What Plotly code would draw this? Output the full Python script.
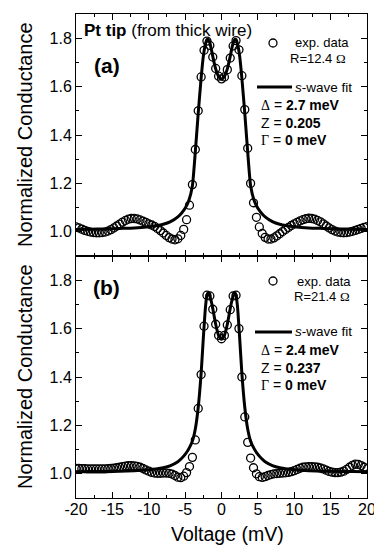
import plotly.graph_objects as go

# measured bias voltage (mV), shared by both panels
VOLTAGE = [
    -20.0, -19.6, -19.2, -18.8, -18.4, -18.0, -17.6, -17.2, -16.8, -16.4,
    -16.0, -15.6, -15.2, -14.8, -14.4, -14.0, -13.6, -13.2, -12.8, -12.4,
    -12.0, -11.6, -11.2, -10.8, -10.4, -10.0, -9.6, -9.2, -8.8, -8.4,
    -8.0, -7.6, -7.2, -6.8, -6.4, -6.0, -5.6, -5.2, -4.8, -4.4,
    -4.0, -3.6, -3.2, -2.8, -2.4, -2.0, -1.6, -1.2, -0.8, -0.4,
    0.0, 0.4, 0.8, 1.2, 1.6, 2.0, 2.4, 2.8, 3.2, 3.6,
    4.0, 4.4, 4.8, 5.2, 5.6, 6.0, 6.4, 6.8, 7.2, 7.6,
    8.0, 8.4, 8.8, 9.2, 9.6, 10.0, 10.4, 10.8, 11.2, 11.6,
    12.0, 12.4, 12.8, 13.2, 13.6, 14.0, 14.4, 14.8, 15.2, 15.6,
    16.0, 16.4, 16.8, 17.2, 17.6, 18.0, 18.4, 18.8, 19.2, 19.6, 20.0,
]

# panel (a): R = 12.4 Ohm
EXP_A = [
    1.020, 1.016, 1.011, 1.006, 1.002, 0.999, 0.997, 0.996, 0.996, 0.997,
    0.999, 1.003, 1.009, 1.016, 1.024, 1.032, 1.040, 1.047, 1.052, 1.055,
    1.055, 1.053, 1.049, 1.044, 1.039, 1.033, 1.028, 1.022, 1.014, 1.005,
    0.995, 0.985, 0.976, 0.970, 0.967, 0.971, 0.985, 1.010, 1.050, 1.110,
    1.195, 1.340, 1.500, 1.640, 1.750, 1.788, 1.770, 1.722, 1.675, 1.643,
    1.632, 1.640, 1.670, 1.718, 1.768, 1.790, 1.752, 1.645, 1.505, 1.345,
    1.200, 1.120, 1.060, 1.020, 0.993, 0.977, 0.970, 0.970, 0.975, 0.983,
    0.992, 1.001, 1.010, 1.018, 1.026, 1.033, 1.039, 1.045, 1.050, 1.054,
    1.056, 1.055, 1.052, 1.047, 1.041, 1.033, 1.024, 1.016, 1.009, 1.003,
    0.999, 0.997, 0.996, 0.997, 0.999, 1.002, 1.006, 1.010, 1.014, 1.018, 1.021,
]

# panel (b): R = 21.4 Ohm
EXP_B = [
    1.022, 1.022, 1.021, 1.021, 1.020, 1.020, 1.020, 1.020, 1.020, 1.020,
    1.020, 1.021, 1.022, 1.023, 1.025, 1.027, 1.030, 1.032, 1.034, 1.034,
    1.033, 1.031, 1.027, 1.022, 1.016, 1.011, 1.006, 1.003, 1.002, 1.002,
    1.003, 1.003, 1.002, 0.999, 0.993, 0.986, 0.984, 0.990, 1.005, 1.030,
    1.068, 1.140, 1.270, 1.410, 1.610, 1.738, 1.735, 1.680, 1.618, 1.572,
    1.558, 1.572, 1.615, 1.678, 1.735, 1.738, 1.600, 1.400, 1.235, 1.130,
    1.065, 1.025, 1.000, 0.988, 0.985, 0.988, 0.993, 0.997, 1.000, 1.001,
    1.002, 1.003, 1.004, 1.006, 1.009, 1.013, 1.018, 1.023, 1.027, 1.029,
    1.030, 1.030, 1.029, 1.027, 1.024, 1.020, 1.015, 1.010, 1.007, 1.005,
    1.005, 1.007, 1.011, 1.018, 1.027, 1.035, 1.040, 1.039, 1.034, 1.027, 1.020,
]

# s-wave (BTK) fit curves
FIT_V = [
    -20, -18, -16, -14, -12, -10, -9, -8, -7, -6, -5.5, -5, -4.5, -4,
    -3.6, -3.2, -2.8, -2.5, -2.2, -2.0, -1.8, -1.6, -1.4, -1.2, -0.8, -0.4, 0,
    0.4, 0.8, 1.2, 1.4, 1.6, 1.8, 2.0, 2.2, 2.5, 2.8, 3.2, 3.6,
    4, 4.5, 5, 5.5, 6, 7, 8, 9, 10, 12, 14, 16, 18, 20,
]
FIT_A = [
    1.010, 1.011, 1.012, 1.014, 1.016, 1.021, 1.025, 1.031, 1.042, 1.062, 1.077, 1.097, 1.128, 1.190,
    1.330, 1.490, 1.635, 1.725, 1.778, 1.795, 1.795, 1.780, 1.755, 1.725, 1.673, 1.642, 1.630,
    1.642, 1.673, 1.725, 1.755, 1.780, 1.795, 1.795, 1.778, 1.725, 1.635, 1.490, 1.330,
    1.190, 1.128, 1.097, 1.077, 1.062, 1.042, 1.031, 1.025, 1.021, 1.016, 1.014, 1.012, 1.011, 1.010,
]
FIT_B = [
    1.008, 1.009, 1.010, 1.011, 1.013, 1.017, 1.020, 1.025, 1.034, 1.050, 1.063, 1.080, 1.103, 1.135,
    1.185, 1.275, 1.415, 1.560, 1.690, 1.738, 1.748, 1.735, 1.712, 1.683, 1.618, 1.572, 1.556,
    1.572, 1.618, 1.683, 1.712, 1.735, 1.748, 1.738, 1.690, 1.560, 1.415, 1.275, 1.185,
    1.135, 1.103, 1.080, 1.063, 1.050, 1.034, 1.025, 1.020, 1.017, 1.013, 1.011, 1.010, 1.009, 1.008,
]

X_TICKS = [-20, -15, -10, -5, 0, 5, 10, 15, 20]
X_LABELS = ["-20", "-15", "-10", "-5", "0", "5", "10", "15", "20"]
Y_TICKS = [1.0, 1.2, 1.4, 1.6, 1.8]
Y_LABELS = ["1.0", "1.2", "1.4", "1.6", "1.8"]

FONT = "Liberation Sans, Arial, sans-serif"
# the page body has an 8 px margin, so the figure is drawn 8 px smaller and
# all positions below are given in window pixels
OFF = 8
W, H = 382 - OFF, 549 - OFF
# plot area in window pixels: x 76..367, y 14..498
PL, PR, PT, PB = 76, 367, 14, 498
PW, PH = PR - PL, PB - PT


def px(x):
    return (x - PL) / PW


def py(y):
    return (PB - y) / PH


fig = go.Figure()
for ya, exp, fit in (("y2", EXP_A, FIT_A), ("y", EXP_B, FIT_B)):
    xa = "x2" if ya == "y2" else "x"
    fig.add_trace(go.Scatter(x=VOLTAGE, y=exp, mode="markers", xaxis=xa, yaxis=ya,
                             marker=dict(symbol="circle-open", size=8, color="black",
                                         line=dict(width=1.3, color="black")),
                             showlegend=False))
    fig.add_trace(go.Scatter(x=FIT_V, y=fit, mode="lines", xaxis=xa, yaxis=ya,
                             line=dict(color="black", width=3, shape="spline", smoothing=0.5),
                             showlegend=False))

xcommon = dict(range=[-20, 20], showline=True, linecolor="black", linewidth=1, mirror="ticks",
               ticks="inside", ticklen=6, tickcolor="black",
               tickvals=X_TICKS, ticktext=X_LABELS, ticklabelstandoff=-3,
               minor=dict(ticks="inside", ticklen=3, dtick=2.5, tick0=0, tickcolor="black"),
               showgrid=False, zeroline=False,
               tickfont=dict(family=FONT, size=16, color="black"))
ycommon = dict(range=[0.9, 1.9], showline=True, linecolor="black", linewidth=1, mirror="ticks",
               ticks="inside", ticklen=6, tickcolor="black",
               tickvals=Y_TICKS, ticktext=Y_LABELS,
               minor=dict(ticks="inside", ticklen=3, dtick=0.1, tick0=0, tickcolor="black"),
               showgrid=False, zeroline=False,
               tickfont=dict(family=FONT, size=16, color="black"))

fig.update_layout(
    width=W, height=H,
    margin=dict(l=PL - OFF, r=W - (PR - OFF), t=PT - OFF, b=H - (PB - OFF)),
    paper_bgcolor="white", plot_bgcolor="white",
    xaxis=dict(xcommon, domain=[0, 1], anchor="y"),
    yaxis=dict(ycommon, domain=[0, 0.5], anchor="x"),
    xaxis2=dict(xcommon, domain=[0, 1], anchor="y2", showticklabels=False, matches="x"),
    yaxis2=dict(ycommon, domain=[0.5, 1], anchor="x2"),
)

GREEK = '<span style="font-family:Liberation Serif">'
notes = [
    # (x px, y px, text, size, xanchor)
    (82, 30, "<b>Pt tip</b> (from thick wire)", 17, "left"),
    (92, 66, "<b>(a)</b>", 21, "left"),
    (293, 43, "exp. data", 13, "left"),
    (348, 59, "R=12.4 " + GREEK + "Ω</span>", 13, "right"),
    (293, 87, "<i>s</i>-wave fit", 13.5, "left"),
    (259, 105, GREEK + "Δ</span> = <b>2.7 meV</b>", 14, "left"),
    (259, 123, "Z = <b>0.205</b>", 14, "left"),
    (259, 140, GREEK + "Γ</span> = <b>0 meV</b>", 14, "left"),
    (91, 287, "<b>(b)</b>", 21, "left"),
    (295, 281, "exp. data", 13, "left"),
    (352, 296, "R=21.4 " + GREEK + "Ω</span>", 13, "right"),
    (293, 332, "<i>s</i>-wave fit", 13.5, "left"),
    (259, 350, GREEK + "Δ</span> = <b>2.4 meV</b>", 14, "left"),
    (259, 368, "Z = <b>0.237</b>", 14, "left"),
    (259, 385, GREEK + "Γ</span> = <b>0 meV</b>", 14, "left"),
    (227, 534, "Voltage (mV)", 19.5, "center"),
]
for x, y, text, size, anchor in notes:
    fig.add_annotation(x=px(x), y=py(y), xref="paper", yref="paper", text=text,
                       showarrow=False, xanchor=anchor, yanchor="middle",
                       font=dict(family=FONT, size=size, color="black"))

# y axis titles
for yc in (135, 377):
    fig.add_annotation(x=px(25), y=py(yc), xref="paper", yref="paper",
                       text="Normalized Conductance", textangle=-90, showarrow=False,
                       xanchor="center", yanchor="middle",
                       font=dict(family=FONT, size=20, color="black"))

# legend symbols
for cy, ly, x0, x1 in ((43, 87, 257, 292), (281, 332, 255, 292)):
    fig.add_shape(type="circle", xref="paper", yref="paper",
                  x0=px(269), x1=px(277), y0=py(cy + 4), y1=py(cy - 4),
                  line=dict(color="black", width=1.3))
    fig.add_shape(type="line", xref="paper", yref="paper",
                  x0=px(x0), x1=px(x1), y0=py(ly), y1=py(ly),
                  line=dict(color="black", width=3))

fig.write_html("out.html")
